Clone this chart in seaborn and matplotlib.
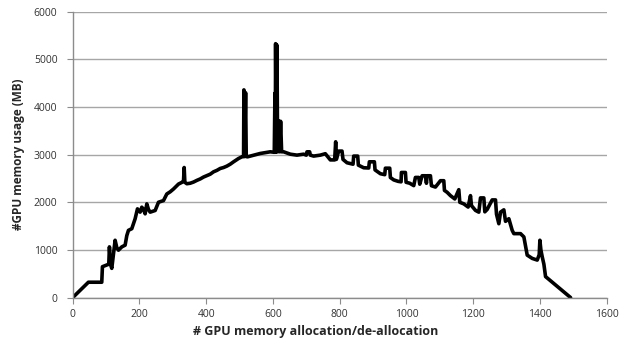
import matplotlib
matplotlib.use("Agg")
import matplotlib.pyplot as plt
import seaborn as sns
import pandas as pd

# Allocation index (x) and GPU memory usage in MB (y)
alloc_idx = [
    0, 47, 87, 89, 102, 108, 110, 113, 117, 122, 127, 132, 137, 147, 157, 162,
    167, 177, 187, 194, 202, 207, 212, 217, 222, 227, 232, 247, 257, 272, 282,
    292, 302, 317, 327, 332, 334, 336, 342, 352, 362, 372, 382, 392, 402, 412,
    422, 432, 442, 452, 462, 472, 482, 497, 507,
    512, 513, 515, 518, 520, 524, 532, 562, 592, 604, 606, 607, 608, 610, 612,
    614, 617, 620, 623, 626, 632, 652, 672, 692, 700, 702, 710, 712, 722, 742,
    757, 765, 772, 785, 788, 790, 797, 807, 810, 822, 840, 842, 854, 856, 872,
    887, 889, 904, 906, 922, 935, 937, 950, 952, 962, 975, 984, 985, 997, 999,
    1010, 1022, 1027, 1037, 1040, 1047, 1057, 1060, 1062, 1072, 1075, 1087,
    1102, 1112, 1114, 1122, 1132, 1145, 1157, 1160, 1172, 1185, 1192, 1195,
    1207, 1217, 1222, 1232, 1235, 1242, 1257, 1267, 1270, 1277, 1282, 1292,
    1297, 1307, 1317, 1322, 1342, 1352, 1362, 1377, 1392, 1398, 1400, 1403,
    1407, 1412, 1417, 1492,
]
mem_mb = [
    0, 322, 322, 648, 683, 700, 1064, 700, 613, 900, 1203, 1050, 995, 1064,
    1100, 1300, 1411, 1446, 1654, 1862, 1793, 1897, 1850, 1758, 1967, 1850,
    1793, 1828, 2001, 2036, 2175, 2220, 2279, 2383, 2418, 2450, 2730, 2420,
    2390, 2400, 2425, 2460, 2490, 2530, 2560, 2590, 2640, 2670, 2710, 2730,
    2760, 2800, 2850, 2920, 2955,
    2960, 4360, 2960, 4300, 2960, 2955, 2970, 3025, 3060, 3050, 4290, 3050,
    5330, 3060, 5300, 3060, 3710, 3060, 3700, 3060, 3060, 3010, 2990, 3010,
    2990, 3060, 3060, 2990, 2970, 2990, 3020, 2950, 2890, 2890, 3270, 2900,
    3075, 3075, 2900, 2830, 2800, 2970, 2970, 2780, 2725, 2720, 2850, 2850,
    2680, 2600, 2580, 2716, 2716, 2520, 2470, 2440, 2430, 2626, 2626, 2420,
    2400, 2350, 2522, 2522, 2380, 2557, 2557, 2400, 2557, 2557, 2348, 2320,
    2453, 2453, 2250, 2210, 2140, 2070, 2265, 2000, 1967, 1900, 2140, 1930,
    1830, 1793, 2092, 2092, 1800, 1850, 2050, 2050, 1750, 1550, 1793, 1842,
    1600, 1655, 1411, 1342, 1342, 1273, 891, 822, 787, 900, 1203, 1000, 856,
    700, 440, 0,
]

x_ticks = [0, 200, 400, 600, 800, 1000, 1200, 1400, 1600]
y_ticks = [0, 1000, 2000, 3000, 4000, 5000, 6000]
x_label = "# GPU memory allocation/de-allocation"
y_label = "#GPU memory usage (MB)"

df = pd.DataFrame({"alloc": alloc_idx, "mem": mem_mb})

sns.set_theme(style="white")
plt.rcParams["font.family"] = ["Open Sans", "DejaVu Sans"]

fig = plt.figure(figsize=(6.19, 3.46), dpi=100)
ax = fig.add_axes([0.1175, 0.14, 0.8625, 0.826])

ax.grid(axis="y", color="#a6a6a6", linewidth=1.0)
ax.set_axisbelow(True)

sns.lineplot(data=df, x="alloc", y="mem", sort=False, estimator=None,
             color="black", linewidth=2.6, ax=ax)

ax.set_xlim(0, 1600)
ax.set_ylim(0, 6000)
ax.set_xticks(x_ticks)
ax.set_yticks(y_ticks)
ax.set_xticklabels([str(t) for t in x_ticks])
ax.set_yticklabels([str(t) for t in y_ticks])

for s in ["top", "right"]:
    ax.spines[s].set_visible(False)
for s in ["left", "bottom"]:
    ax.spines[s].set_color("#8c8c8c")
    ax.spines[s].set_linewidth(1.0)

ax.tick_params(axis="both", which="major", direction="out", length=4,
               width=0.8, color="#8c8c8c", labelsize=7.5, labelcolor="#333333",
               bottom=True, left=True)
ax.tick_params(axis="y", pad=7)
ax.tick_params(axis="x", pad=4)

ax.set_xlabel(x_label, fontsize=9, fontweight="bold", color="#262626")
ax.xaxis.set_label_coords(0.455, -0.095)
ax.set_ylabel(y_label, fontsize=8.5, fontweight="bold", color="#262626", labelpad=6)

fig.savefig("out.png", dpi=100)
